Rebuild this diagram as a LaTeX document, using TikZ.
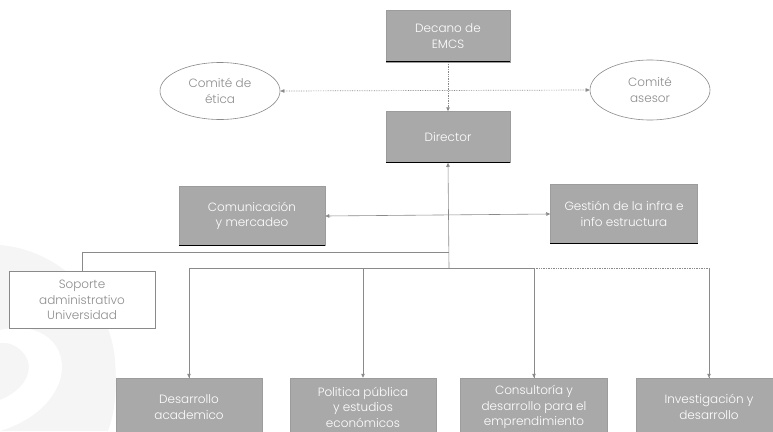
\documentclass[tikz,border=0pt]{standalone}
\usepackage{fontspec}
\IfFontExistsTF{Poppins Light}{\setmainfont{Poppins Light}}{\setmainfont{Poppins}}
\usetikzlibrary{arrows.meta,shapes.geometric}
\definecolor{boxgray}{HTML}{A9A9A9}
\definecolor{boxedge}{HTML}{9C9C9C}
\definecolor{shade}{HTML}{8A8A8A}
\definecolor{linegray}{HTML}{8A8A8A}
\definecolor{txtgray}{HTML}{8C8C8C}
\definecolor{wm}{HTML}{F5F5F5}
\tikzset{
  unit/.style={draw=boxedge, line width=0.5pt, fill=boxgray, text=white, align=center,
    font=\fontsize{12}{15.5}\selectfont, inner sep=0pt},
  whitebox/.style={draw=linegray, line width=0.6pt, fill=white, text=txtgray, align=center,
    font=\fontsize{12}{15.5}\selectfont, inner sep=0pt},
  committee/.style={ellipse, draw=linegray, line width=0.6pt, fill=white, text=txtgray, align=center,
    font=\fontsize{12}{15.5}\selectfont, inner sep=0pt},
  conn/.style={draw=linegray, line width=0.6pt},
  dotconn/.style={draw=linegray, line width=0.7pt, densely dotted},
  tip/.style={-{Triangle[length=4pt,width=3.5pt]}},
  tips/.style={{Triangle[length=4pt,width=3.5pt]}-{Triangle[length=4pt,width=3.5pt]}},
}
\newcommand{\shadowbottom}[1]{\draw[shade, line width=1.1pt] ([yshift=0.5pt]#1.south west) -- ([yshift=0.5pt]#1.south east);}
\begin{document}
\begin{tikzpicture}[x=1pt,y=-1pt]
\useasboundingbox (0,0) rectangle (773,431);
% faint watermark
\fill[wm] (0,245) .. controls (60,250) and (110,300) .. (115,360) .. controls (118,400) and (112,420) .. (108,431) -- (0,431) -- cycle;
\fill[white] (0,330) .. controls (40,320) and (70,345) .. (60,380) .. controls (50,410) and (20,425) .. (0,431) -- (0,400) .. controls (25,390) and (35,370) .. (25,355) .. controls (18,345) and (8,342) .. (0,343) -- cycle;

% nodes
\node[unit, minimum width=124pt, minimum height=52pt] (decano) at (448,36) {Decano de\\EMCS};
\node[unit, minimum width=124pt, minimum height=51pt] (director) at (448,137) {Director};
\node[committee, minimum width=120pt, minimum height=57pt] (etica) at (220,91) {Comité de\\ética};
\node[committee, minimum width=120pt, minimum height=60pt] (asesor) at (650,90) {Comité\\asesor};
\node[unit, minimum width=146pt, minimum height=59pt] (comun) at (252,216) {Comunicación\\y mercadeo};
\node[unit, minimum width=147pt, minimum height=59pt] (gestion) at (624,214) {Gestión de la infra e\\info estructura};
\node[whitebox, minimum width=146pt, minimum height=57pt] (soporte) at (82,300) {Soporte\\administrativo\\Universidad};
\node[unit, minimum width=146pt, minimum height=58pt] (desa) at (189,407) {Desarrollo\\academico};
\node[unit, minimum width=146pt, minimum height=58pt] (poli) at (363,407) {Politica pública\\y estudios\\económicos};
\node[unit, minimum width=147pt, minimum height=58pt] (cons) at (534,407) {Consultoría y\\desarrollo para el\\emprendimiento};
\node[unit, minimum width=146pt, minimum height=58pt] (inve) at (709,407) {Investigación y\\desarrollo};
\foreach \n in {decano,director,comun,gestion}{\shadowbottom{\n}}

% hub coordinates
\coordinate (hub) at (449,268);
\coordinate (sup) at (449,252);

% connectors
\draw[dotconn, tip] (decano.south) -- (director.north);
\draw[dotconn, tips] (etica.east) -- (asesor.west);
\draw[conn, tip] (hub) -- (director.south);
\draw[conn, tips] (comun.east) -- (gestion.west);
\draw[conn] (sup) -| (soporte.north);
\draw[conn] (hub) -| (desa.north);
\draw[conn, tip] (desa.north |- hub) -- (desa.north);
\draw[conn, tip] (poli.north |- hub) -- (poli.north);
\draw[conn] (hub) -| (cons.north);
\draw[conn, tip] (cons.north |- hub) -- (cons.north);
\draw[dotconn] (cons.north |- hub) -| (inve.north);
\draw[conn, tip] (inve.north |- hub) -- (inve.north);
\end{tikzpicture}
\end{document}
